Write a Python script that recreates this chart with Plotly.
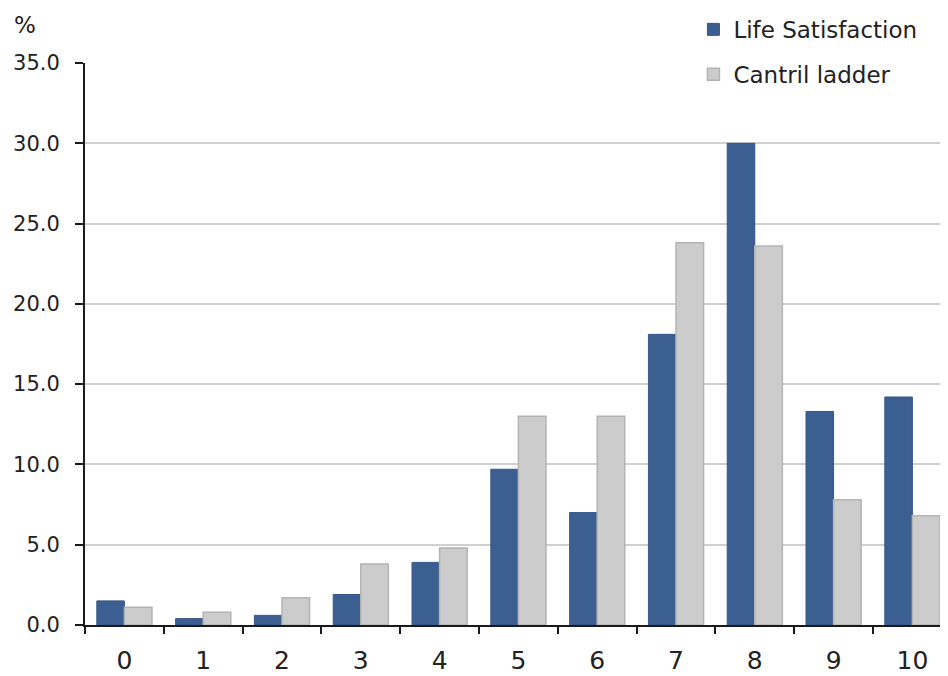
import plotly.graph_objects as go

categories = ["0", "1", "2", "3", "4", "5", "6", "7", "8", "9", "10"]
life_satisfaction = [1.5, 0.4, 0.6, 1.9, 3.9, 9.7, 7.0, 18.1, 30.0, 13.3, 14.2]
cantril_ladder = [1.1, 0.8, 1.7, 3.8, 4.8, 13.0, 13.0, 23.8, 23.6, 7.8, 6.8]
y_ticks = [0, 5, 10, 15, 20, 25, 30, 35]

FONT = "DejaVu Sans"
TXT = "#222222"

fig = go.Figure()
fig.add_trace(go.Bar(
    x=categories, y=life_satisfaction, name="Life Satisfaction",
    legendgroup="a",
    marker=dict(color="#3C5F91", line=dict(color="#36578A", width=1)),
))
fig.add_trace(go.Bar(
    x=categories, y=cantril_ladder, name="Cantril ladder",
    legendgroup="b",
    marker=dict(color="#CCCCCC", line=dict(color="#B4B4B4", width=1.5)),
))

# page body adds an 8px offset, so the figure is 8px smaller than the window
fig.update_layout(
    width=940, height=668,
    margin=dict(l=77, r=0, t=55, b=51, autoexpand=False),
    paper_bgcolor="white", plot_bgcolor="white",
    barmode="group", bargap=0.30, bargroupgap=0.0,
    font=dict(family=FONT, color=TXT),
    showlegend=True,
    legend=dict(
        x=0.705, y=1.098, xanchor="left", yanchor="top",
        bgcolor="white", borderwidth=0,
        font=dict(family=FONT, size=23, color=TXT),
        tracegroupgap=12,
        itemwidth=30,
    ),
    xaxis=dict(
        type="category",
        range=[-0.5, 10.452],
        automargin=False,
        tickson="boundaries",
        ticks="outside", ticklen=7, tickwidth=2, tickcolor="#1a1a1a",
        showline=True, linecolor="#1a1a1a", linewidth=2,
        showgrid=False,
        tickfont=dict(family=FONT, size=25, color=TXT),
        ticklabelstandoff=12,
    ),
    yaxis=dict(
        range=[0, 35],
        automargin=False,
        tickvals=y_ticks,
        tickformat=".1f",
        ticks="outside", ticklen=8, tickwidth=2, tickcolor="#1a1a1a",
        showline=True, linecolor="#1a1a1a", linewidth=2,
        showgrid=True, gridcolor="#D0D0D0", gridwidth=1.5,
        zeroline=False,
        tickfont=dict(family=FONT, size=21, color=TXT),
        ticklabelstandoff=11,
    ),
    annotations=[dict(
        text="%", xref="paper", yref="paper",
        x=-0.085, y=1.068, xanchor="left", yanchor="middle",
        showarrow=False, font=dict(family=FONT, size=23, color=TXT),
    )],
)

fig.write_html("out.html")
